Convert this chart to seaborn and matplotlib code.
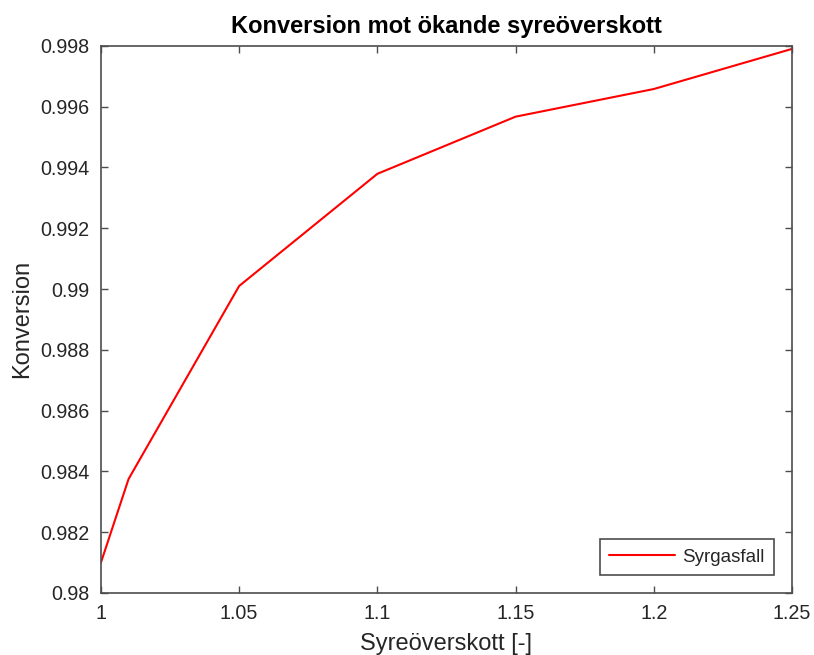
import matplotlib
matplotlib.use("Agg")
import matplotlib.pyplot as plt
import seaborn as sns
import pandas as pd
from matplotlib.ticker import FuncFormatter

syreoverskott = [1.0, 1.01, 1.05, 1.1, 1.15, 1.2, 1.25]
konversion = [0.9810, 0.98375, 0.9901, 0.99379, 0.99567, 0.99658, 0.9979]
series_name = "Syrgasfall"

sns.set_style("white")
plt.rcParams['font.family'] = ['Liberation Sans', 'DejaVu Sans']

df = pd.DataFrame({"x": syreoverskott, "y": konversion, "serie": series_name})

fig = plt.figure(figsize=(8.14, 6.55), dpi=100)
ax = fig.add_axes([0.124, 0.0947, 0.849, 0.8353])
sns.lineplot(data=df, x="x", y="y", hue="serie", palette=["#ff0000"], linewidth=1.5, ax=ax)

ax.set_xlim(1.0, 1.25)
ax.set_ylim(0.98, 0.998)
ax.set_xticks([1.0, 1.05, 1.1, 1.15, 1.2, 1.25])
ax.set_yticks([0.98, 0.982, 0.984, 0.986, 0.988, 0.99, 0.992, 0.994, 0.996, 0.998])
fmt = FuncFormatter(lambda v, p: f"{v:g}")
ax.xaxis.set_major_formatter(fmt)
ax.yaxis.set_major_formatter(fmt)

gray = "#4d4d4d"
for s in ax.spines.values():
    s.set_visible(True)
    s.set_color(gray)
    s.set_linewidth(1.2)
ax.tick_params(direction="in", length=5, width=1, colors=gray, labelcolor="#262626",
               labelsize=14.2, top=True, right=True, bottom=True, left=True, pad=8)

ax.set_xlabel("Syreöverskott [-]", fontsize=17, color="#262626", labelpad=7)
ax.set_ylabel("Konversion", fontsize=17, color="#262626", labelpad=5)
ax.set_title("Konversion mot ökande syreöverskott", fontsize=17, fontweight="bold", color="black", pad=9)

leg = ax.legend(loc="lower right", fontsize=13.5, frameon=True, fancybox=False,
                handlelength=3.5, handletextpad=0.4, borderaxespad=0.95, borderpad=0.5)
leg.get_frame().set_edgecolor(gray)
leg.get_frame().set_linewidth(1.2)
leg.get_frame().set_alpha(1)

fig.savefig("out.png", dpi=100)
